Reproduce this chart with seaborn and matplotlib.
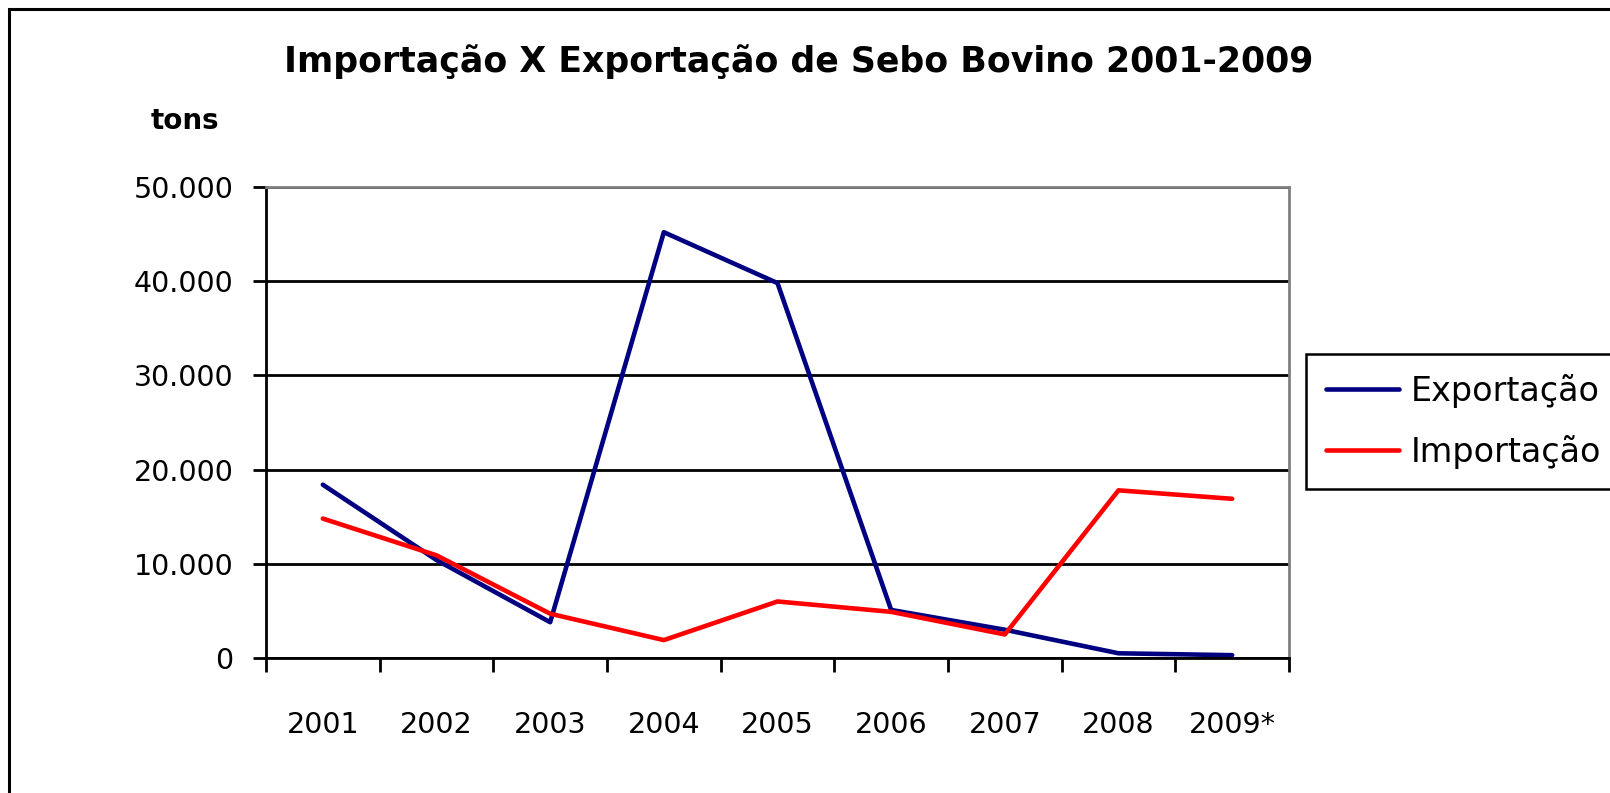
import matplotlib
matplotlib.use('Agg')
import matplotlib.pyplot as plt
import matplotlib.patches as mpatches
from matplotlib.ticker import FuncFormatter, FixedLocator
import pandas as pd
import seaborn as sns


years = ['2001', '2002', '2003', '2004', '2005', '2006', '2007', '2008', '2009*']
exportacao = [18400, 10400, 3800, 45200, 39800, 5100, 3000, 500, 300]
importacao = [14800, 10900, 4700, 1900, 6000, 4900, 2500, 17800, 16900]
series_names = ['Exportação', 'Importação']
colors = {'Exportação': '#000080', 'Importação': '#ff0000'}


def build_frame():
    """
    :return: long DataFrame with one row per year and series
    """
    exp = pd.DataFrame({'ano': years, 'tons': exportacao, 'serie': series_names[0]})
    imp = pd.DataFrame({'ano': years, 'tons': importacao, 'serie': series_names[1]})
    return pd.concat([exp, imp], ignore_index=True)


def main():
    data = build_frame()

    sns.set_theme(style='white')
    plt.rcParams['font.family'] = ['DejaVu Sans']
    plt.rcParams['text.color'] = 'black'
    plt.rcParams['xtick.color'] = 'black'
    plt.rcParams['ytick.color'] = 'black'

    fig = plt.figure(figsize=(16.1, 7.93), dpi=100)
    ax = fig.add_axes([266 / 1610, 1 - 658 / 793, 1023 / 1610, 471 / 793])

    sns.lineplot(data=data, x='ano', y='tons', hue='serie', palette=colors,
                 linewidth=3.3, sort=False, legend=False, ax=ax)

    # axis formatting
    ax.set_xlim(-0.5, len(years) - 0.5)
    ax.set_ylim(0, 50000)
    ax.set_yticks(range(0, 50001, 10000))
    ax.yaxis.set_major_formatter(FuncFormatter(lambda v, p: f'{int(v):,}'.replace(',', '.')))
    ax.set_xticks(range(len(years)))
    ax.set_xticklabels(years)
    ax.xaxis.set_minor_locator(FixedLocator([i - 0.5 for i in range(len(years) + 1)]))
    ax.tick_params(axis='x', which='major', length=0, pad=38, labelsize=20.5)
    ax.tick_params(axis='x', which='minor', length=10, width=2, direction='out', color='black', bottom=True)
    ax.tick_params(axis='y', length=9.5, width=2, direction='out', color='black', left=True, pad=14, labelsize=20.5)
    ax.set_xlabel('')
    ax.set_ylabel('')
    ax.grid(axis='y', color='black', linewidth=2)
    ax.set_axisbelow(True)
    for side in ['left', 'bottom']:
        ax.spines[side].set_color('black')
        ax.spines[side].set_linewidth(2)
    for side in ['top', 'right']:
        ax.spines[side].set_color('#808080')
        ax.spines[side].set_linewidth(2)

    fig.text(0.496, 1 - 62 / 793, 'Importação X Exportação de Sebo Bovino 2001-2009',
             ha='center', va='center', fontsize=25, fontweight='bold')
    fig.text(185 / 1610, 1 - 121 / 793, 'tons', ha='center', va='center',
             fontsize=20, fontweight='bold')

    handles = [plt.Line2D([], [], color=colors[s], linewidth=3.3) for s in series_names]
    leg = fig.legend(handles, series_names, loc='upper left',
                     bbox_to_anchor=(1306 / 1610, 1 - 354 / 793), fontsize=24,
                     frameon=True, fancybox=False, framealpha=1, handlelength=2.2,
                     handletextpad=0.35, labelspacing=0.8, borderpad=0.6, borderaxespad=0)
    leg.get_frame().set_edgecolor('black')
    leg.get_frame().set_linewidth(1.8)

    # outer chart frame (cut off at the right and bottom)
    frame = mpatches.Rectangle((9 / 1610, -0.2), 2, 1 - 9 / 793 + 0.2, transform=fig.transFigure,
                               fill=False, edgecolor='black', linewidth=2.2)
    fig.patches.append(frame)

    fig.savefig('out.png', dpi=100)


if __name__ == '__main__':
    main()
